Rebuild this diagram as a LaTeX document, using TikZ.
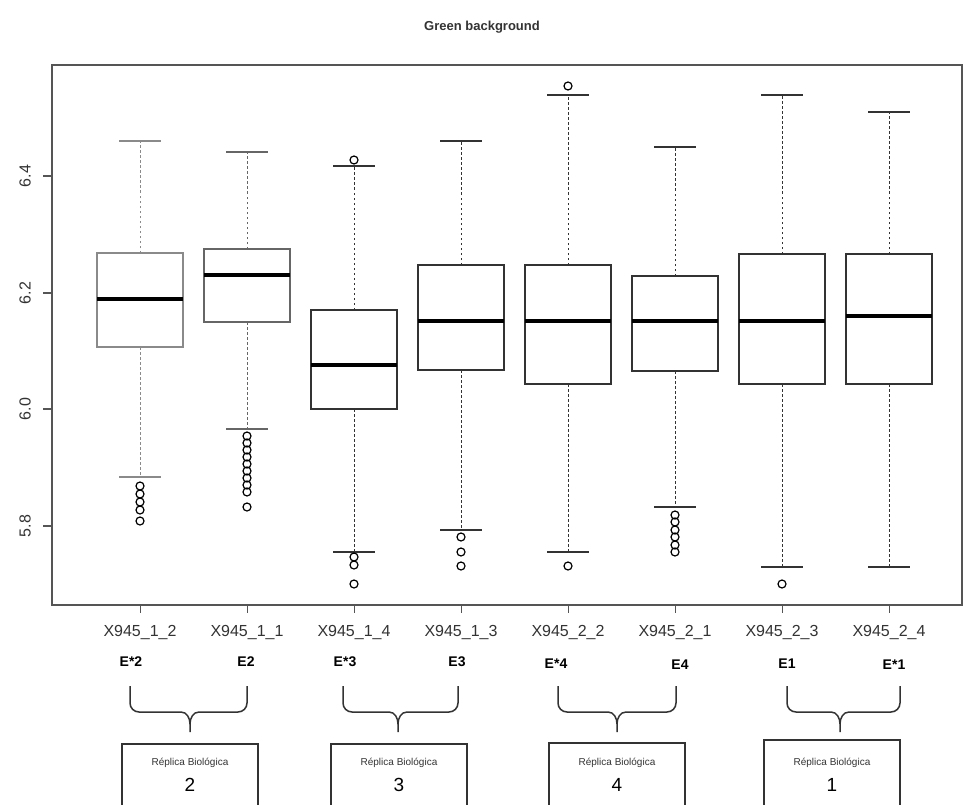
\documentclass[tikz,border=0pt]{standalone}
\usepackage{fontspec}
\setmainfont{Liberation Sans}
\definecolor{frm}{HTML}{555555}
\definecolor{dk}{HTML}{333333}
\definecolor{lt}{HTML}{8A8A8A}
\definecolor{md}{HTML}{666666}
\tikzset{
  frameline/.style={draw=frm, line width=1.5pt},
  whisk/.style={line width=1pt, dash pattern=on 2.5pt off 2.5pt},
  capline/.style={line width=1.3pt},
  boxline/.style={line width=1.3pt},
  medline/.style={line width=3.5pt, draw=black},
  outl/.style={draw=black, line width=1.2pt},
  xlab/.style={font=\fontsize{16}{18}\selectfont, text=dk},
  ylab/.style={font=\fontsize{16}{18}\selectfont, text=dk, rotate=90},
  elab/.style={font=\bfseries\fontsize{14}{16}\selectfont, text=black},
  brc/.style={draw=dk, line width=1.5pt},
  rbox/.style={draw=dk, line width=1.8pt, minimum width=136pt, minimum height=90pt, anchor=north, align=center, inner sep=0pt}
}
\newcommand\mybox[7]{%
  \draw[whisk,draw=#7] (#1,#3) -- (#1,#2);
  \draw[whisk,draw=#7] (#1,#5) -- (#1,#6);
  \draw[capline,draw=#7] (#1-21,#2) -- (#1+21,#2);
  \draw[capline,draw=#7] (#1-21,#6) -- (#1+21,#6);
  \draw[boxline,draw=#7] (#1-43,#3) rectangle (#1+43,#5);
  \draw[medline] (#1-43,#4) -- (#1+43,#4);
}
\newcommand\mybrace[3]{%
  \draw[brc] (#1,686) -- (#1,703) to[out=-90,in=180] (#1+9,712) -- (#3-9,712) to[out=0,in=90] (#3,724) -- (#3,732);
  \draw[brc] (#2,686) -- (#2,703) to[out=-90,in=0] (#2-9,712) -- (#3+9,712) to[out=180,in=90] (#3,724);
}
\begin{document}
\begin{tikzpicture}[x=1pt,y=-1pt]
\useasboundingbox (0,0) rectangle (963,805);
\clip (0,0) rectangle (963,805);
\fill[white] (0,0) rectangle (963,805);

% title
\node[font=\bfseries\fontsize{13}{15}\selectfont, text=dk] (title) at (482,27) {Green background};

% frame
\draw[frameline] (52,65) rectangle (962,605);

% y axis
\foreach \v/\yy in {6.4/176,6.2/293,6.0/409,5.8/526}{
  \draw[frameline] (43,\yy) -- (52,\yy);
  \node[ylab] (yl\yy) at (25,\yy) {\v};
}

% boxes
\mybox{140}{141}{253}{299}{347}{477}{lt}
\mybox{247}{152}{249}{275}{322}{429}{md}
\mybox{354}{166}{310}{365}{409}{552}{dk}
\mybox{461}{141}{265}{321}{370}{530}{dk}
\mybox{568}{95}{265}{321}{384}{552}{dk}
\mybox{675}{147}{276}{321}{371}{507}{dk}
\mybox{782}{95}{254}{321}{384}{567}{dk}
\mybox{889}{112}{254}{316}{384}{567}{dk}

% outliers
\foreach \o in {486,494,502,510,521} \draw[outl] (140,\o) circle[radius=4pt];
\foreach \o in {436,443,450,457,464,471,478,485,492,507} \draw[outl] (247,\o) circle[radius=4pt];
\foreach \o in {160,557,565,584} \draw[outl] (354,\o) circle[radius=4pt];
\foreach \o in {537,552,566} \draw[outl] (461,\o) circle[radius=4pt];
\foreach \o in {86,566} \draw[outl] (568,\o) circle[radius=4pt];
\foreach \o in {515,522,530,537,545,552} \draw[outl] (675,\o) circle[radius=4pt];
\draw[outl] (782,584) circle[radius=4pt];

% x ticks and labels
\foreach \xx/\lab in {140/X945\_1\_2,247/X945\_1\_1,354/X945\_1\_4,461/X945\_1\_3,568/X945\_2\_2,675/X945\_2\_1,782/X945\_2\_3,889/X945\_2\_4}{
  \draw[frameline, line width=1pt] (\xx,605) -- (\xx,613);
  \node[xlab] (xl\xx) at (\xx,632) {\lab};
}

% E labels
\node[elab] (e1) at (131,662) {E*2};
\node[elab] (e2) at (246,662) {E2};
\node[elab] (e3) at (345,662) {E*3};
\node[elab] (e4) at (457,662) {E3};
\node[elab] (e5) at (556,664) {E*4};
\node[elab] (e6) at (680,665) {E4};
\node[elab] (e7) at (787,664) {E1};
\node[elab] (e8) at (894,665) {E*1};

% braces
\mybrace{130}{247}{190}
\mybrace{343}{458}{398}
\mybrace{558}{676}{617}
\mybrace{787}{900}{840}

% replica boxes
\node[rbox] (r2) at (190,743) {};
\node[rbox] (r3) at (399,743) {};
\node[rbox] (r4) at (617,742) {};
\node[rbox, line width=2.2pt] (r1) at (832,739) {};
\foreach \c/\n/\num in {190/r2t/2,399/r3t/3,617/r4t/4,832/r1t/1}{
  \node[font=\fontsize{10}{11}\selectfont, text=dk] (\n) at (\c,763) {Réplica Biológica};
  \node[font=\fontsize{19}{21}\selectfont, text=black] (\n n) at (\c,785) {\num};
}
\end{tikzpicture}
\end{document}
